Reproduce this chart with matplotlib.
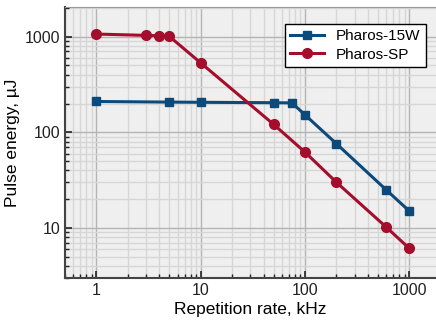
import matplotlib
matplotlib.use('Agg')
import matplotlib.pyplot as plt

plt.rcParams['font.family'] = ['Liberation Sans', 'DejaVu Sans']

# repetition rate (kHz) and pulse energy (uJ)
rate_15w = [1, 5, 10, 50, 75, 100, 200, 600, 1000]
energy_15w = [210, 207, 206, 204, 203, 152, 76, 25, 15]
rate_sp = [1, 3, 4, 5, 10, 50, 100, 200, 600, 1000]
energy_sp = [1065, 1032, 1022, 1008, 532, 121, 62, 30, 10.2, 6.1]

fig = plt.figure(figsize=(4.36, 3.27), dpi=100)
ax = fig.add_axes([0.149, 0.150, 0.851, 0.829])
ax.set_facecolor('#efefef')

ax.plot(rate_15w, energy_15w, 's-', c='#0b4a7b', lw=2.2, ms=6.2, label='Pharos-15W')
ax.plot(rate_sp, energy_sp, 'o-', c='#a50d2c', lw=2.2, ms=7, label='Pharos-SP')

ax.set_xscale('log')
ax.set_yscale('log')
ax.set_xlim(0.5, 1800)
ax.set_ylim(3, 2050)
ax.set_xticks([1, 10, 100, 1000])
ax.set_xticklabels(['1', '10', '100', '1000'])
ax.set_yticks([10, 100, 1000])
ax.set_yticklabels(['10', '100', '1000'])

ax.grid(True, which='major', color='#b4b4b4', lw=1.0)
ax.grid(True, which='minor', color='#d6d6d6', lw=1.0)
ax.set_axisbelow(True)

ax.tick_params(which='both', direction='in', labelsize=11.5, colors='#222222')
ax.tick_params(which='major', length=5, width=1.2)
ax.tick_params(which='minor', length=3, width=1.0)

for s in ['left', 'bottom']:
    ax.spines[s].set_color('#444444')
    ax.spines[s].set_linewidth(1.5)
ax.spines['top'].set_color('#999999')
ax.spines['right'].set_visible(False)

ax.set_xlabel('Repetition rate, kHz', fontsize=12.5, labelpad=3)
ax.set_ylabel('Pulse energy, µJ', fontsize=12.5, labelpad=3)

leg = ax.legend(loc='upper right', bbox_to_anchor=(0.993, 0.966), fontsize=11,
                fancybox=False, framealpha=1, edgecolor='black',
                handlelength=2.2, borderpad=0.35, labelspacing=0.3)
leg.get_frame().set_linewidth(1.0)

plt.savefig('out.png', dpi=100)
